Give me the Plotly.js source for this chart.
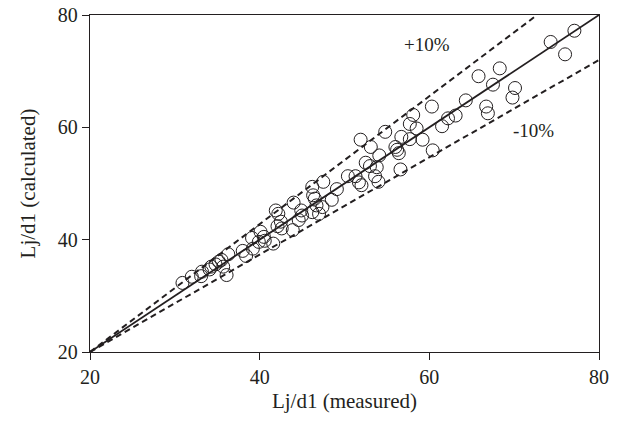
<!DOCTYPE html>
<html>
<head>
<meta charset="utf-8">
<script src="https://cdn.plot.ly/plotly-3.0.1.min.js"></script>
<style>html,body{margin:0;padding:0;background:#fff;}#chart{width:621px;height:423px;}</style>
</head>
<body>
<div id="chart"></div>
<script>
// Measured vs calculated Lj/d1
const measured = [30.9, 32.0, 33.1, 33.2, 34.1, 34.3, 34.8, 35.2, 35.5, 36.3, 35.7, 36.1,
  38.0, 38.4, 39.1, 39.2, 39.9, 40.1, 40.5, 40.6, 41.6, 41.9, 42.2, 42.1, 42.5, 42.6,
  43.9, 44.0, 44.6, 44.9, 45.0, 46.2, 46.2, 46.3, 46.5, 46.7, 47.0, 47.4, 47.5, 48.5,
  49.1, 50.4, 51.3, 51.7, 52.0, 51.9, 52.5, 53.0, 53.1, 53.6, 53.8, 54.0, 54.1, 54.8,
  56.0, 56.2, 56.4, 56.6, 56.7, 57.7, 57.7, 58.1, 58.5, 59.2, 60.4, 60.3, 61.5, 62.2,
  63.1, 64.3, 65.8, 66.7, 66.9, 67.5, 68.3, 69.8, 70.1, 74.3, 76.0, 77.1];
const calculated = [32.3, 33.4, 33.5, 34.3, 34.7, 35.2, 35.6, 36.1, 36.4, 37.4, 35.2, 33.7,
  38.0, 37.1, 40.3, 38.4, 39.6, 41.4, 40.5, 39.8, 39.3, 45.2, 44.6, 42.4, 43.2, 42.0,
  41.7, 46.6, 43.5, 45.2, 44.3, 49.4, 44.9, 47.9, 47.3, 46.1, 44.6, 45.8, 50.3, 47.1,
  49.0, 51.3, 51.3, 50.2, 49.7, 57.8, 53.7, 53.1, 56.5, 51.3, 52.9, 50.3, 55.0, 59.2,
  56.5, 56.0, 55.4, 52.5, 58.3, 57.9, 60.6, 62.2, 59.8, 57.8, 55.9, 63.7, 60.2, 61.6,
  62.1, 64.8, 69.1, 63.7, 62.5, 67.6, 70.5, 65.3, 67.0, 75.2, 73.0, 77.2];

// Reference lines
const perfectX = [20, 80];
const perfectY = [20, 80];
const plusX = [20, 72.7];
const plusY = [20, 80];
const minusX = [20, 80];
const minusY = [20, 72];
const lineLabels = ["+10%", "-10%"];

const ink = "#231f20";
const fontFam = "'Liberation Serif', 'DejaVu Serif', serif";

const traces = [
  {x: plusX, y: plusY, mode: "lines", line: {color: ink, width: 2, dash: "6px,4px"}, hoverinfo: "skip"},
  {x: minusX, y: minusY, mode: "lines", line: {color: ink, width: 2, dash: "6px,4px"}, hoverinfo: "skip"},
  {x: perfectX, y: perfectY, mode: "lines", line: {color: ink, width: 1.8}, hoverinfo: "skip"},
  {x: measured, y: calculated, mode: "markers",
   marker: {symbol: "circle-open", size: 13, color: ink, line: {width: 1, color: ink}}}
];

const axisBase = {
  range: [20, 80], tickvals: [20, 40, 60, 80], ticks: "outside", ticklen: 7, tickwidth: 1,
  tickcolor: ink, showline: true, linecolor: ink, linewidth: 1.2, mirror: true,
  showgrid: false, zeroline: false, tickfont: {family: fontFam, size: 20, color: ink}
};

const layout = {
  width: 621, height: 423,
  margin: {l: 90, r: 22, t: 15, b: 71},
  paper_bgcolor: "#fff", plot_bgcolor: "#fff",
  showlegend: false,
  xaxis: Object.assign({}, axisBase, {title: {text: "Lj/d1 (measured)", font: {family: fontFam, size: 21, color: ink}, standoff: 6}}),
  yaxis: Object.assign({}, axisBase, {title: {text: "Lj/d1 (calculated)", font: {family: fontFam, size: 21, color: ink}, standoff: 16}}),
  annotations: [
    {x: 59.7, y: 74.7, xref: "x", yref: "y", text: lineLabels[0], showarrow: false, font: {family: fontFam, size: 19, color: ink}},
    {x: 72.3, y: 59.5, xref: "x", yref: "y", text: lineLabels[1], showarrow: false, font: {family: fontFam, size: 19, color: ink}}
  ]
};

Plotly.newPlot("chart", traces, layout, {displayModeBar: false, staticPlot: true});
</script>
</body>
</html>
